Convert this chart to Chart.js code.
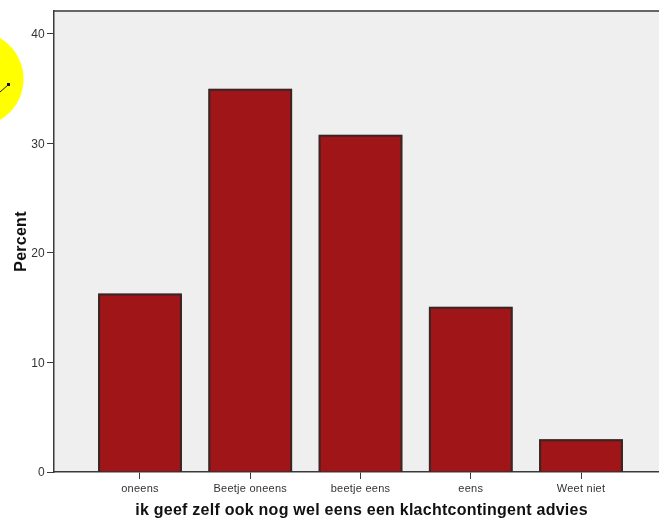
<!DOCTYPE html>
<html>
<head>
<meta charset="utf-8">
<title>klachtcontingent advies</title>
<script src="https://cdn.jsdelivr.net/npm/chart.js@4"></script>
<style>
html, body { margin: 0; padding: 0; background: #fff; overflow: hidden; }
#wrap { width: 669px; height: 521px; }
</style>
</head>
<body>
<div id="wrap"><canvas id="chart"></canvas></div>
<script>
var categories = ["oneens", "Beetje oneens", "beetje eens", "eens", "Weet niet"];
var percentValues = [16.3, 35.0, 30.8, 15.1, 3.0];
var yTicks = [0, 10, 20, 30, 40];

var axisColor = '#3a3a3a';
var barEdge = '#3a2525';
var fontName = '"Liberation Sans", Arial, sans-serif';

function barPoints() {
    return percentValues.map(function (v, i) { return {x: i + 1, y: v}; });
}

// plot background and the top edge of the frame
var plotFrame = {
    id: 'plotFrame',
    beforeDraw: function (chart) {
        var a = chart.chartArea, ctx = chart.ctx;
        ctx.letterSpacing = '0.25px';
        ctx.save();
        ctx.fillStyle = '#efefef';
        ctx.fillRect(a.left, a.top, a.right - a.left, a.bottom - a.top);
        ctx.strokeStyle = '#666666';
        ctx.lineWidth = 2;
        ctx.beginPath();
        ctx.moveTo(a.left, a.top);
        ctx.lineTo(a.right, a.top);
        ctx.stroke();
        ctx.restore();
    }
};

// yellow cursor highlight from the screen capture
var cursorSpot = {
    id: 'cursorSpot',
    afterDraw: function (chart) {
        var ctx = chart.ctx;
        ctx.save();
        ctx.fillStyle = '#ffff00';
        ctx.beginPath();
        ctx.arc(-24, 79, 47.5, 0, Math.PI * 2);
        ctx.fill();
        ctx.strokeStyle = '#222222';
        ctx.lineWidth = 1;
        ctx.beginPath();
        ctx.moveTo(0, 92);
        ctx.lineTo(8, 85);
        ctx.stroke();
        ctx.fillStyle = '#111111';
        ctx.fillRect(7, 83, 3, 3);
        ctx.restore();
    }
};

var chart = new Chart(document.getElementById('chart').getContext('2d'), {
    type: 'bar',
    data: {
        datasets: [{
            // main bars
            data: barPoints(),
            order: 1,
            grouped: false,
            backgroundColor: '#a01518',
            borderColor: barEdge,
            borderWidth: 2,
            barPercentage: 0.76,
            categoryPercentage: 1
        }, {
            // same bars underneath, stops the light seam between border and fill
            data: barPoints(),
            order: 2,
            grouped: false,
            backgroundColor: barEdge,
            borderWidth: 0,
            barPercentage: 0.76,
            categoryPercentage: 1
        }]
    },
    options: {
        responsive: true,
        maintainAspectRatio: false,
        animation: false,
        layout: {padding: {top: 11, right: 0, left: 0, bottom: 0}},
        plugins: {legend: {display: false}, tooltip: {enabled: false}},
        scales: {
            x: {
                type: 'linear',
                offset: false,
                min: 0.22,
                max: 5.798,
                afterBuildTicks: function (axis) {
                    axis.ticks = categories.map(function (c, i) { return {value: i + 1}; });
                },
                afterFit: function (axis) { axis.height = 49; },
                ticks: {
                    autoSkip: false,
                    maxRotation: 0,
                    padding: 3,
                    color: '#333333',
                    font: {family: fontName, size: 11},
                    callback: function (value) { return categories[value - 1]; }
                },
                grid: {offset: false, drawOnChartArea: false, tickLength: 7, tickColor: axisColor, tickWidth: 1},
                border: {color: axisColor, width: 1.5},
                title: {
                    display: true,
                    text: 'ik geef zelf ook nog wel eens een klachtcontingent advies',
                    color: '#111111',
                    font: {family: fontName, size: 16, weight: 'bold'},
                    padding: {top: 0, bottom: 1}
                }
            },
            y: {
                min: 0,
                max: 42.1,
                afterBuildTicks: function (axis) {
                    axis.ticks = yTicks.map(function (v) { return {value: v}; });
                },
                afterFit: function (axis) { axis.width = 54; },
                ticks: {
                    padding: 2,
                    labelOffset: 1,
                    color: '#333333',
                    font: {family: fontName, size: 12}
                },
                grid: {drawOnChartArea: false, tickLength: 7, tickColor: axisColor, tickWidth: 1},
                border: {color: axisColor, width: 1.5},
                title: {
                    display: true,
                    text: 'Percent',
                    color: '#111111',
                    font: {family: fontName, size: 16, weight: 'bold'},
                    padding: {top: 12, bottom: 0}
                }
            }
        }
    },
    plugins: [plotFrame, cursorSpot]
});
</script>
</body>
</html>
